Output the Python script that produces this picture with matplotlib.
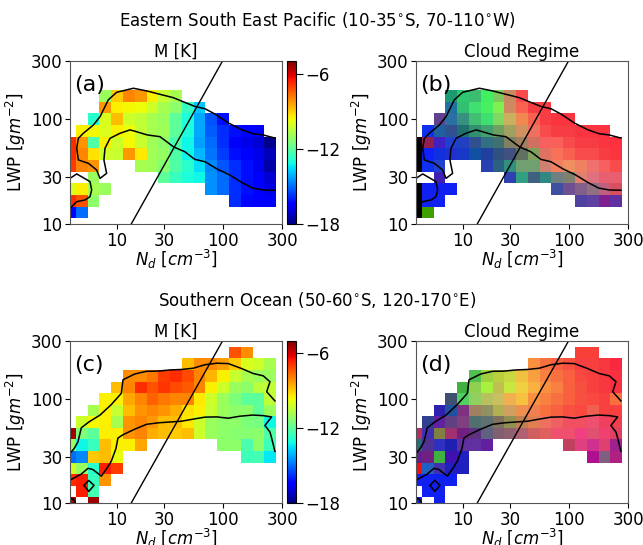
import numpy as np
import matplotlib
matplotlib.use('Agg')
import matplotlib.pyplot as plt
from matplotlib.colors import to_rgba

# ---------------- grid / ticks ----------------
NX, NY = 19, 15                      # Nd bins x LWP bins (index space)
nd_tick_pos = [4, 8, 13, 18]
nd_tick_labels = ['10', '30', '100', '300']
lwp_tick_pos = [0, 4, 9, 14]
lwp_tick_labels = ['10', '30', '100', '300']
cbar_ticks = [-6, -12, -18]
m_range = (-18, -5)

# ---------------- panel (a): M [K], SE Pacific ----------------
# row index -> list of (first column, values)
m_sep = {
    11: [(3, [-11.0, -9.0, -8.0, -8.3, -9.5, -10.3, -10.8])],
    10: [(3, [-8.3, -9.5, -9.6, -9.7, -10.2, -10.8, -11.2, -12.6, -13.8])],
    9: [(2, [-12.8, -10.0, -8.8, -10.2, -10.4, -10.8, -11.0, -12.0, -13.0, -14.2, -15.3, -16.2])],
    8: [(1, [-9.5, -9.6, -10.0, -9.5, -9.7, -10.4, -10.8, -10.9, -12.0, -13.0, -14.2, -15.2, -15.8, -16.2, -16.4, -16.5])],
    7: [(0, [-6.8, -8.2, -12.2, -9.5, -10.2, -9.6, -10.3, -10.9, -11.2, -12.3, -13.2, -14.3, -15.0, -15.8, -16.6, -16.8, -17.0, -17.8])],
    6: [(0, [-6.8, -8.0, -9.3, -10.2, -10.3, -8.3, -9.4, -10.9, -11.1, -12.2, -13.2, -14.0, -14.9, -15.6, -16.2, -16.4, -16.8, -17.3])],
    5: [(0, [-7.0, -8.0, -8.2]), (6, [-10.8, -10.9, -11.3, -12.2, -12.8, -13.5, -14.6, -15.3, -15.8, -16.2, -16.7, -17.5])],
    4: [(2, [-11.0]), (8, [-12.0, -12.6, -13.0, -13.2, -14.5, -15.0, -15.8, -16.2, -16.5, -17.0])],
    3: [(0, [-10.0, -9.5, -10.8, -11.0]), (12, [-14.5, -15.0, -15.8, -16.2, -16.5, -16.8])],
    2: [(0, [-6.8, -7.3, -11.2]), (14, [-15.8, -16.3, -16.5, -16.6])],
    1: [(0, [-16.5, -15.0])],
}

# ---------------- panel (b): cloud regime RGB, SE Pacific ----------------
regime_sep = {
    11: [(3, ['#1a9a70', '#2ec870', '#3cbc70', '#40f060', '#80c860', '#c88a60', '#fa4a4a'])],
    10: [(3, ['#2070a0', '#30c070', '#40e070', '#48f060', '#80f050', '#d08860', '#f86050', '#f83c44', '#ff3c44'])],
    9: [(2, ['#604090', '#2a70a0', '#3a9080', '#40c070', '#40e070', '#80d860', '#c8b060', '#f08850', '#f86050', '#f83c44', '#fa3540', '#fa3540'])],
    8: [(1, ['#1030f0', '#2060a0', '#305090', '#207070', '#309070', '#40a070', '#70a060', '#a0a060', '#d09060', '#f07060', '#f84c4c', '#f83c44', '#f83c44', '#fa3540', '#fa3540', '#ff3040'])],
    7: [(0, ['#000000', '#902050', '#4020c0', '#2040d0', '#2040c0', '#305090', '#307080', '#407070', '#808060', '#a08060', '#d07060', '#f86060', '#f86058', '#f84c4c', '#f83c44', '#f83c44', '#fa3540', '#ff3040'])],
    6: [(0, ['#000000', '#1020f8', '#1030e0', '#2030d0', '#1838c8', '#1050a0', '#2040a0', '#305080', '#405080', '#607060', '#80a060', '#e07060', '#f87058', '#f86050', '#f84c4c', '#f84c4c', '#f83c44', '#fa3540'])],
    5: [(0, ['#000000', '#1030f0', '#2040d0']), (6, ['#2840b0', '#2a6080', '#309080', '#70a070', '#70a070', '#d08070', '#f08060', '#f09060', '#f08060', '#f07070', '#f86060', '#f84c4c'])],
    4: [(2, ['#4020b0']), (8, ['#3040b0', '#30a080', '#406080', '#308880', '#708080', '#808070', '#e08070', '#e07080', '#e86070', '#e86070'])],
    3: [(0, ['#000000', '#1020f0', '#1020f0', '#1020f0']), (12, ['#4050a0', '#705090', '#806088', '#907080', '#c06080', '#d85060'])],
    2: [(0, ['#000000', '#1020f0', '#1020f0']), (14, ['#5040a0', '#6040a0', '#802090', '#6030a0'])],
    1: [(0, ['#000000', '#40a000'])],
}

# ---------------- panel (c): M [K], Southern Ocean ----------------
m_so = {
    13: [(14, [-7.3, -8.1])],
    12: [(10, [-8.8, -8.1, -8.1, -8.4, -9.0, -10.0, -10.2, -10.8])],
    11: [(5, [-8.1, -8.1, -7.8, -7.0, -6.8, -7.2, -8.0, -8.7, -9.5, -10.3, -10.8, -11.0, -11.0])],
    10: [(4, [-8.8, -8.0, -6.8, -7.3, -6.9, -7.2, -7.4, -8.0, -9.5, -10.2, -11.0, -11.2, -10.5, -10.4])],
    9: [(3, [-9.5, -9.5, -8.5, -8.0, -7.5, -7.8, -8.0, -8.0, -9.4, -10.2, -11.0, -11.5, -12.0, -12.0, -10.4])],
    8: [(2, [-10.8, -9.5, -10.3, -8.8, -8.2, -8.0, -8.2, -8.6, -9.3, -9.5, -10.3, -11.0, -11.2, -11.2, -12.0, -11.0])],
    7: [(1, [-10.2, -9.6, -9.5, -10.8, -8.2, -8.0, -8.3, -8.8, -8.8, -9.4, -10.2, -11.0, -11.2, -11.2, -11.5, -11.6, -13.2])],
    6: [(0, [-5.4, -11.5, -12.0, -9.5, -9.5, -8.2, -8.0, -8.6, -8.8, -9.0, -8.8, -10.2, -11.0, -11.2, -11.3, -11.3, -11.2, -12.2])],
    5: [(0, [-11.0, -13.2, -12.6, -8.8, -9.5, -9.5, -8.5]), (13, [-11.2, -11.2, -12.3, -11.2, -12.5])],
    4: [(0, [-15.0, -14.6, -9.0, -8.8, -9.8]), (15, [-12.5, -12.4, -13.4])],
    3: [(0, [-10.2, -11.0, -12.8, -6.6, -7.0])],
    2: [(0, [-6.8, -6.6, -12.6, -8.2])],
    1: [(1, [-6.6, -12.4])],
    0: [(0, [-5.4]), (2, [-5.4])],
}

# ---------------- panel (d): cloud regime RGB, Southern Ocean ----------------
regime_so = {
    13: [(14, ['#f84038', '#f84038'])],
    12: [(10, ['#f89040', '#f87040', '#f86040', '#f85040', '#f84040', '#f84040', '#f83840', '#f82840'])],
    11: [(5, ['#50c050', '#a0d040', '#b8d040', '#c8d840', '#f0c040', '#f8a040', '#f88040', '#f87040', '#f86040', '#f84840', '#f84040', '#f83840', '#f83040'])],
    10: [(4, ['#40b040', '#90d050', '#a8f040', '#c0c050', '#c8e840', '#f0d040', '#f8b040', '#f89040', '#f88040', '#f86040', '#f85040', '#f84040', '#f83840', '#f83040'])],
    9: [(3, ['#405070', '#50d060', '#90d060', '#b8c060', '#c8c060', '#f0b050', '#f8c040', '#f89040', '#f88040', '#f87040', '#f86040', '#f85040', '#f84840', '#f84040', '#f87040'])],
    8: [(2, ['#3020b0', '#2050a0', '#803080', '#a08060', '#909060', '#b0b050', '#d0a060', '#f09050', '#f08050', '#f87040', '#f86040', '#f85040', '#f84840', '#f06050', '#f84040', '#f84040'])],
    7: [(1, ['#304090', '#6020a0', '#604080', '#804080', '#507070', '#607070', '#807060', '#909050', '#c08050', '#e08050', '#f07060', '#f06060', '#f05060', '#f05060', '#f05070', '#f04060', '#f04050'])],
    6: [(0, ['#b03060', '#4030b0', '#808040', '#a03070', '#702080', '#603080', '#606080', '#806070', '#906070', '#b06070', '#d06060', '#e06060', '#f05070', '#f05070', '#f04080', '#e05070', '#f04070', '#e04060'])],
    5: [(0, ['#207080', '#503090', '#3030c0', '#2020b0', '#6030a0', '#6030a0', '#6020a0']), (13, ['#c04060', '#e04080', '#d03090', '#e04070', '#a02090'])],
    4: [(0, ['#602090', '#702080', '#40b040', '#4010b0', '#2020c0']), (15, ['#b01090', '#806080', '#b02080'])],
    3: [(0, ['#f01010', '#2060c0', '#4030b0', '#2020c0', '#2020c0'])],
    2: [(0, ['#1020f0', '#1020f0', '#1020f0', '#1020f0'])],
    1: [(1, ['#1020f0', '#1020f0'])],
    0: [(0, ['#1020f0']), (2, ['#1020f0'])],
}

# ---------------- contours (index coordinates) ----------------
sep_contour_x = [17.4, 16.4, 15.56, 14.57, 13.44, 12.3, 11.46, 10.6, 9.62, 8.77, 7.64, 6.51, 5.38,
                 3.96, 3.25, 2.55, 1.98, 1.13, 0.71, 0.57, 0.71, 1.56, 2.26, 2.55, 3.11, 2.88, 2.97,
                 3.4, 4.24, 5.09, 5.4, 6.56, 7.64, 8.8, 9.76, 10.6, 11.46, 12.5, 13.58, 14.57, 15.5,
                 16.41, 17.4]
sep_contour_y = [7.38, 7.65, 7.75, 8.1, 8.68, 9.45, 9.9, 10.1, 10.5, 10.85, 11.14, 11.43, 11.66,
                 11.31, 10.66, 9.22, 8.5, 7.79, 7.36, 6.5, 5.5, 5.21, 4.64, 3.92, 4.35, 5.5, 6.5,
                 7.36, 7.79, 8.08, 8.0, 7.65, 7.5, 6.62, 6.2, 5.55, 5.35, 4.72, 4.2, 3.58, 3.09,
                 2.92, 2.9]
sep_small_x = [0.0, 0.57, 1.7, 1.84, 1.7, 1.27, 0.57, 0.14, 0.0]
sep_small_y = [3.92, 4.3, 3.64, 2.93, 2.35, 2.06, 1.92, 1.49, 1.26]

so_outer_x = [17.4, 16.7, 16.98, 16.41, 15.56, 14.57, 13.44, 12.45, 11.46, 10.47, 9.48, 8.49, 7.5,
              6.5, 5.5, 4.5, 4.36, 3.5, 2.55, 1.6, 0.96, 0.68, 0.35, 0.0]
so_outer_y = [8.82, 9.62, 10.48, 10.99, 11.19, 11.62, 12.05, 12.08, 11.95, 11.65, 11.54, 11.5, 11.4,
              11.38, 11.15, 10.65, 9.48, 8.5, 7.6, 7.0, 6.5, 5.3, 4.7, 4.3]
so_inner_x = [17.4, 17.12, 16.98, 16.55, 17.12, 16.41, 15.5, 14.43, 13.44, 12.45, 11.46, 10.47,
              9.48, 8.49, 7.5, 6.5, 5.5, 4.5, 4.07, 3.9, 3.5, 3.2, 2.66, 1.95, 1.53, 0.96, 0.1, 0.0]
so_inner_y = [4.46, 5.61, 6.13, 6.7, 7.44, 7.55, 7.6, 7.5, 7.33, 7.44, 7.42, 7.25, 7.07, 7.0,
              6.93, 6.8, 6.38, 5.9, 5.61, 4.7, 3.6, 3.1, 2.32, 2.89, 3.0, 2.5, 2.03, 2.0]
so_diamond_x = [1.19, 1.59, 2.04, 1.59, 1.19]
so_diamond_y = [1.52, 1.95, 1.52, 1.0, 1.52]
so_corner_x = [0.0, 0.35, 0.45]
so_corner_y = [0.5, 0.25, 0.0]

diag_x = [5.2, 12.95]
diag_y = [0.0, 14.0]


def build_scalar(rows):
    m = np.full((NY, NX), np.nan)
    for i, segs in rows.items():
        for start, vals in segs:
            m[i, start:start + len(vals)] = vals
    return m


def build_rgb(rows):
    m = np.zeros((NY, NX, 4))
    for i, segs in rows.items():
        for start, vals in segs:
            for k, c in enumerate(vals):
                m[i, start + k] = to_rgba(c)
    return m


plt.rcParams['font.family'] = 'DejaVu Sans'
plt.rcParams['font.size'] = 12

W, H = 643, 545
fig = plt.figure(figsize=(W / 100, H / 100), dpi=100)


def ax_rect(x0, y0, x1, y1):
    return [x0 / W, 1 - y1 / H, (x1 - x0) / W, (y1 - y0) / H]


ax_a = fig.add_axes(ax_rect(70, 61, 282, 224))
ax_b = fig.add_axes(ax_rect(416, 61, 628, 224))
ax_c = fig.add_axes(ax_rect(70, 341, 282, 503))
ax_d = fig.add_axes(ax_rect(416, 341, 628, 503))
cax_a = fig.add_axes(ax_rect(287, 61, 296, 224))
cax_c = fig.add_axes(ax_rect(287, 341, 296, 503))

extent = (-0.5, NX - 0.5, -0.5, NY - 0.5)

panels = [
    (ax_a, build_scalar(m_sep), 'M [K]', '(a)', 'sep', cax_a),
    (ax_b, build_rgb(regime_sep), 'Cloud Regime', '(b)', 'sep', None),
    (ax_c, build_scalar(m_so), 'M [K]', '(c)', 'so', cax_c),
    (ax_d, build_rgb(regime_so), 'Cloud Regime', '(d)', 'so', None),
]

for ax, data, title, label, region, cax in panels:
    if data.ndim == 2:
        im = ax.imshow(data, origin='lower', extent=extent, aspect='auto', cmap='jet',
                       vmin=m_range[0], vmax=m_range[1], interpolation='nearest')
        cb = fig.colorbar(im, cax=cax, ticks=cbar_ticks)
        cb.ax.tick_params(labelsize=12, length=5, pad=2)
    else:
        ax.imshow(data, origin='lower', extent=extent, aspect='auto', interpolation='nearest')
    if region == 'sep':
        ax.plot(sep_contour_x, sep_contour_y, color='k', lw=1.1)
        ax.plot(sep_small_x, sep_small_y, color='k', lw=1.1)
    else:
        ax.plot(so_outer_x, so_outer_y, color='k', lw=1.1)
        ax.plot(so_inner_x, so_inner_y, color='k', lw=1.1)
        ax.plot(so_diamond_x, so_diamond_y, color='k', lw=1.1)
        ax.plot(so_corner_x, so_corner_y, color='k', lw=1.1)
    ax.plot(diag_x, diag_y, color='k', lw=1.0)
    ax.set_xlim(0, NX - 1)
    ax.set_ylim(0, NY - 1)
    ax.set_xticks(nd_tick_pos)
    ax.set_xticklabels(nd_tick_labels)
    ax.set_yticks(lwp_tick_pos)
    ax.set_yticklabels(lwp_tick_labels)
    ax.tick_params(labelsize=12, pad=2)
    ax.set_title(title, fontsize=12, pad=3)
    ax.text(0.02, 0.915, label, transform=ax.transAxes, fontsize=16, va='top', ha='left')
    ax.set_xlabel(r'$N_d$ [$cm^{-3}$]', fontsize=12, labelpad=-1)
    ax.set_ylabel(r'LWP [$gm^{-2}$]', fontsize=12, labelpad=2)
    for s in ax.spines.values():
        s.set_color('#555555')

fig.text(0.493, 0.963, r'Eastern South East Pacific (10-35$^{\circ}$S, 70-110$^{\circ}$W)',
         ha='center', va='center', fontsize=12)
fig.text(0.493, 0.449, r'Southern Ocean (50-60$^{\circ}$S, 120-170$^{\circ}$E)',
         ha='center', va='center', fontsize=12)

fig.savefig('out.png', dpi=100)
